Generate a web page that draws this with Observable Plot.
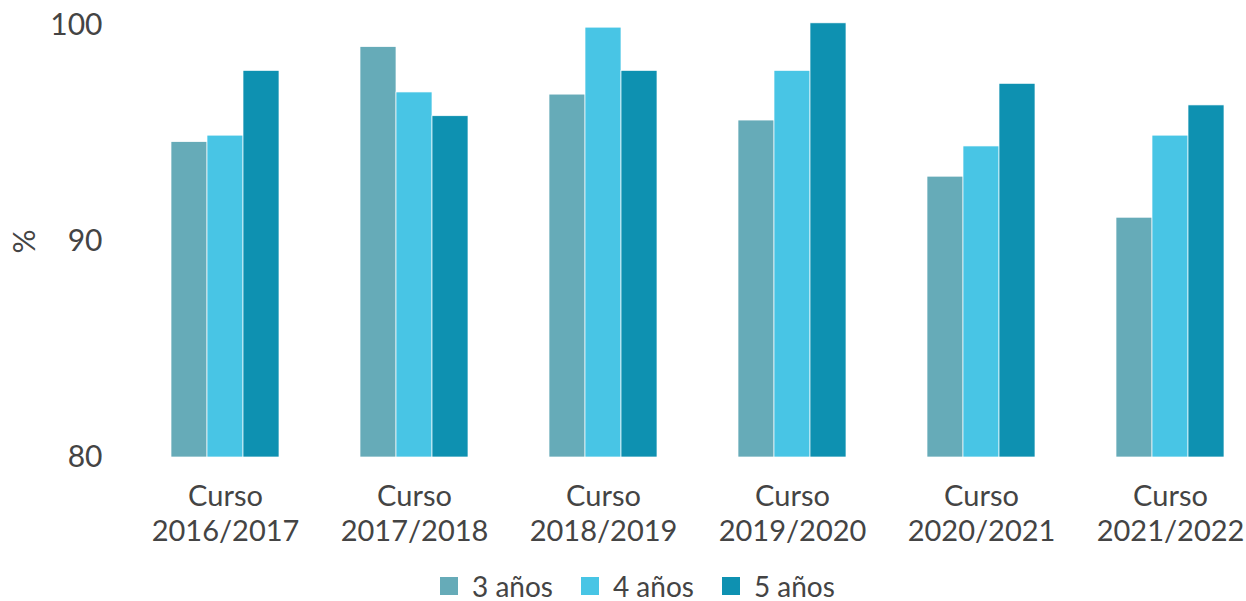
<!DOCTYPE html>
<html>
<head>
<meta charset="utf-8">
<script src="https://cdn.jsdelivr.net/npm/d3@7"></script>
<script src="https://cdn.jsdelivr.net/npm/@observablehq/plot@0.6"></script>
<style>
  html, body { margin: 0; padding: 0; background: #fff; overflow: hidden; }
  #chart { width: 1246px; height: 601px; position: relative; font-family: Lato, "Open Sans", sans-serif; }
  #legend { position: absolute; left: 440px; top: 573px; height: 26px; line-height: 26px; display: flex; align-items: center; font-size: 28px; color: #444; }
  .item { display: flex; align-items: center; margin-right: 28px; line-height: 26px; height: 26px; }
  .sw { width: 18px; height: 18px; margin-right: 14px; }
</style>
</head>
<body>
<div id="chart"></div>
<script>
const cursos = ["Curso\n2016/2017", "Curso\n2017/2018", "Curso\n2018/2019", "Curso\n2019/2020", "Curso\n2020/2021", "Curso\n2021/2022"];
const series = ["3 años", "4 años", "5 años"];
const colors = ["#66abb8", "#48c5e5", "#0e91b1"];
const v3 = [94.6, 99.0, 96.8, 95.6, 93.0, 91.1];
const v4 = [94.9, 96.9, 99.9, 97.9, 94.4, 94.9];
const v5 = [97.9, 95.8, 97.9, 100.1, 97.3, 96.3];
const yTicks = [80, 90, 100];

const vals = [v3, v4, v5];
const data = [];
cursos.forEach((c, i) => series.forEach((s, j) => data.push({curso: c, serie: s, value: vals[j][i]})));

const plot = Plot.plot({
  width: 1246,
  height: 565,
  marginLeft: 148,
  marginRight: 0,
  marginTop: 25,
  marginBottom: 108,
  style: {fontFamily: "Lato, 'Open Sans', sans-serif", color: "#444", background: "#fff"},
  fx: {domain: cursos, paddingInner: 0.429, paddingOuter: 0.116, label: null, axis: null},
  x: {domain: series, padding: 0, axis: null},
  y: {domain: [80, 100], label: null},
  color: {domain: series, range: colors},
  marks: [
    Plot.barY(data, {fx: "curso", x: "serie", y1: 80, y2: "value", fill: "serie", stroke: "#ffffff", strokeWidth: 0.7, inset: 0}),
    Plot.axisY({ticks: yTicks, tickSize: 0, tickPadding: 69, fontSize: 30, label: "%", labelAnchor: "center", labelOffset: 158, labelArrow: "none"}),
    Plot.axisFx({anchor: "bottom", tickSize: 0, tickPadding: 24, fontSize: 29, lineHeight: 1.2, label: null})
  ]
});
document.getElementById("chart").appendChild(plot);

const lg = document.createElement("div");
lg.id = "legend";
series.forEach((s, j) => {
  const it = document.createElement("div");
  it.className = "item";
  const sw = document.createElement("div");
  sw.className = "sw";
  sw.style.background = colors[j];
  const t = document.createElement("span");
  t.textContent = s;
  it.appendChild(sw); it.appendChild(t);
  lg.appendChild(it);
});
document.getElementById("chart").appendChild(lg);
</script>
</body>
</html>
